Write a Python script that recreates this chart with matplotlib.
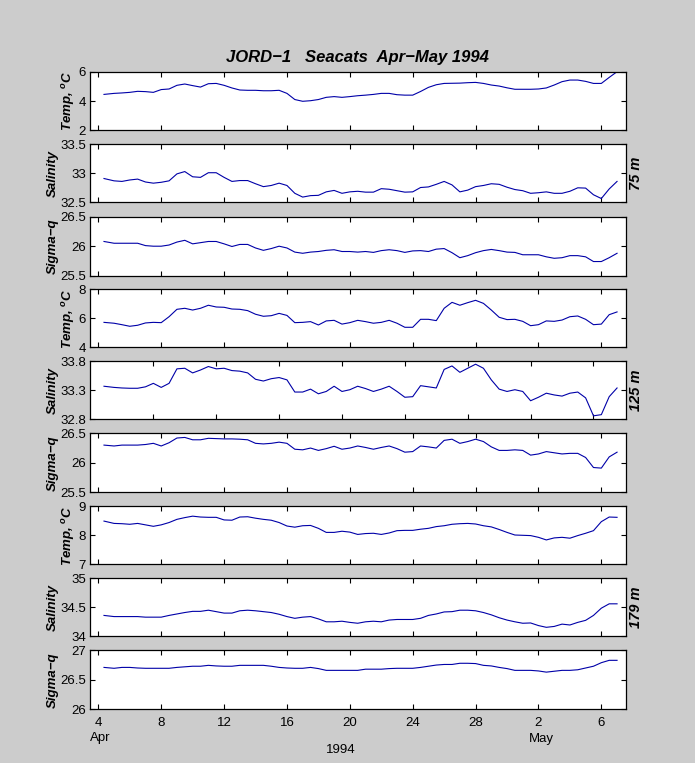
import numpy as np
import matplotlib
matplotlib.use('Agg')
import matplotlib.pyplot as plt

plt.rcParams['font.family'] = ['Liberation Sans', 'DejaVu Sans']
plt.rcParams['mathtext.fontset'] = 'custom'
plt.rcParams['mathtext.bf'] = 'Liberation Sans:bold:italic'

# dias desde 0 abril (2 maio = 32)
days = np.r_[4.36, np.arange(5, 37.5, 0.5)]

# 75 m
temp_75 = [4.45, 4.52, 4.55, 4.59, 4.66, 4.64, 4.59, 4.78, 4.82, 5.07, 5.16, 5.05, 4.95, 5.18, 5.2, 5.07,
           4.89, 4.75, 4.73, 4.73, 4.7, 4.7, 4.73, 4.52, 4.1, 3.98, 4.02, 4.1, 4.25, 4.3, 4.25, 4.3,
           4.36, 4.4, 4.45, 4.52, 4.52, 4.43, 4.4, 4.4, 4.65, 4.93, 5.11, 5.2, 5.21, 5.22, 5.25, 5.27,
           5.2, 5.09, 5.02, 4.9, 4.8, 4.8, 4.8, 4.82, 4.89, 5.09, 5.32, 5.43, 5.43, 5.34, 5.2, 5.2, 5.61, 6.0]
sal_75 = [32.91, 32.87, 32.86, 32.885, 32.9, 32.85, 32.83, 32.845, 32.87, 32.99, 33.03, 32.94, 32.93, 33.01, 33.01, 32.93,
          32.86, 32.875, 32.875, 32.82, 32.77, 32.79, 32.83, 32.79, 32.655, 32.59, 32.615, 32.62, 32.68, 32.705, 32.655, 32.68,
          32.69, 32.675, 32.675, 32.735, 32.725, 32.7, 32.675, 32.68, 32.755, 32.765, 32.81, 32.86, 32.8, 32.68, 32.71, 32.77,
          32.79, 32.82, 32.81, 32.76, 32.72, 32.7, 32.655, 32.665, 32.68, 32.655, 32.655, 32.69, 32.75, 32.745, 32.63, 32.565, 32.73, 32.86]
sig_75 = [26.08, 26.05, 26.05, 26.05, 26.05, 26.01, 26.0, 26.0, 26.02, 26.07, 26.1, 26.04, 26.06, 26.08, 26.08, 26.04,
          25.995, 26.03, 26.03, 25.97, 25.93, 25.96, 26.0, 25.97, 25.9, 25.88, 25.9, 25.91, 25.93, 25.94, 25.91, 25.91,
          25.9, 25.91, 25.895, 25.925, 25.94, 25.925, 25.895, 25.92, 25.925, 25.91, 25.95, 25.96, 25.89, 25.805, 25.84, 25.89,
          25.925, 25.945, 25.925, 25.9, 25.895, 25.855, 25.855, 25.855, 25.82, 25.795, 25.805, 25.84, 25.84, 25.82, 25.74, 25.74, 25.805, 25.88]

# 125 m
temp_125 = [5.72, 5.66, 5.56, 5.45, 5.52, 5.68, 5.72, 5.7, 6.11, 6.62, 6.69, 6.57, 6.69, 6.9, 6.78, 6.76,
            6.64, 6.62, 6.53, 6.28, 6.14, 6.18, 6.34, 6.2, 5.7, 5.72, 5.77, 5.54, 5.82, 5.86, 5.6, 5.7,
            5.86, 5.77, 5.66, 5.72, 5.86, 5.66, 5.38, 5.38, 5.93, 5.93, 5.84, 6.69, 7.1, 6.9, 7.08, 7.24,
            7.03, 6.57, 6.07, 5.91, 5.93, 5.79, 5.49, 5.56, 5.82, 5.79, 5.88, 6.11, 6.16, 5.93, 5.56, 5.6, 6.25, 6.44]
sal_125 = [33.37, 33.35, 33.34, 33.335, 33.335, 33.36, 33.42, 33.35, 33.42, 33.67, 33.68, 33.6, 33.65, 33.71, 33.67, 33.68,
           33.64, 33.63, 33.6, 33.49, 33.46, 33.5, 33.52, 33.48, 33.27, 33.27, 33.32, 33.24, 33.28, 33.37, 33.28, 33.31,
           33.37, 33.33, 33.28, 33.32, 33.37, 33.28, 33.18, 33.19, 33.38, 33.36, 33.34, 33.66, 33.72, 33.61, 33.68, 33.75,
           33.68, 33.48, 33.32, 33.28, 33.31, 33.28, 33.12, 33.18, 33.25, 33.22, 33.2, 33.25, 33.27, 33.17, 32.86, 32.88, 33.19, 33.34]
sig_125 = [26.3, 26.285, 26.3, 26.3, 26.3, 26.31, 26.33, 26.285, 26.34, 26.42, 26.43, 26.39, 26.39, 26.415, 26.41, 26.405,
           26.405, 26.4, 26.39, 26.33, 26.32, 26.33, 26.35, 26.33, 26.23, 26.22, 26.25, 26.21, 26.24, 26.28, 26.23, 26.25,
           26.285, 26.26, 26.23, 26.26, 26.285, 26.24, 26.18, 26.19, 26.285, 26.27, 26.25, 26.38, 26.4, 26.33, 26.36, 26.4,
           26.36, 26.27, 26.21, 26.21, 26.22, 26.21, 26.13, 26.15, 26.19, 26.17, 26.15, 26.16, 26.16, 26.09, 25.92, 25.91, 26.1, 26.18]

# 179 m
temp_179 = [8.49, 8.41, 8.4, 8.38, 8.41, 8.36, 8.31, 8.36, 8.44, 8.55, 8.61, 8.66, 8.63, 8.62, 8.62, 8.53,
            8.52, 8.63, 8.64, 8.59, 8.55, 8.52, 8.44, 8.32, 8.28, 8.33, 8.34, 8.24, 8.1, 8.1, 8.14, 8.11,
            8.03, 8.06, 8.07, 8.03, 8.08, 8.16, 8.17, 8.17, 8.21, 8.24, 8.3, 8.33, 8.38, 8.4, 8.41, 8.39,
            8.33, 8.29, 8.2, 8.1, 8.01, 8.0, 7.99, 7.93, 7.84, 7.91, 7.93, 7.9, 7.99, 8.07, 8.16, 8.47, 8.63, 8.62]
sal_179 = [34.36, 34.34, 34.34, 34.34, 34.34, 34.33, 34.33, 34.33, 34.36, 34.385, 34.41, 34.43, 34.43, 34.45, 34.425, 34.4,
           34.4, 34.44, 34.45, 34.44, 34.425, 34.41, 34.38, 34.34, 34.31, 34.33, 34.34, 34.3, 34.25, 34.25, 34.26, 34.24,
           34.225, 34.25, 34.26, 34.25, 34.28, 34.29, 34.29, 34.29, 34.31, 34.36, 34.385, 34.42, 34.425, 34.45, 34.45, 34.44,
           34.41, 34.37, 34.32, 34.28, 34.25, 34.225, 34.23, 34.185, 34.155, 34.17, 34.21, 34.195, 34.24, 34.275, 34.36, 34.485, 34.56, 34.56]
sig_179 = [26.71, 26.695, 26.71, 26.71, 26.7, 26.695, 26.695, 26.695, 26.695, 26.71, 26.72, 26.73, 26.73, 26.745, 26.735, 26.73,
           26.73, 26.745, 26.745, 26.745, 26.745, 26.73, 26.71, 26.7, 26.695, 26.695, 26.71, 26.69, 26.66, 26.66, 26.66, 26.66,
           26.66, 26.68, 26.68, 26.68, 26.69, 26.695, 26.695, 26.695, 26.71, 26.73, 26.75, 26.76, 26.76, 26.78, 26.78, 26.775,
           26.745, 26.735, 26.71, 26.69, 26.66, 26.66, 26.66, 26.65, 26.63, 26.645, 26.66, 26.66, 26.67, 26.7, 26.73, 26.79, 26.83, 26.83]

series = [temp_75, sal_75, sig_75, temp_125, sal_125, sig_125, temp_179, sal_179, sig_179]
y_limits = [(2, 6), (32.5, 33.5), (25.5, 26.5), (4, 8), (32.8, 33.8), (25.5, 26.5), (7, 9), (34, 35), (26, 27)]
y_ticks = [[2, 4, 6], [32.5, 33, 33.5], [25.5, 26, 26.5], [4, 6, 8], [32.8, 33.3, 33.8], [25.5, 26, 26.5],
           [7, 8, 9], [34, 34.5, 35], [26, 26.5, 27]]
y_ticklabels = [['2', '4', '6'], ['32.5', '33', '33.5'], ['25.5', '26', '26.5'], ['4', '6', '8'],
                ['32.8', '33.3', '33.8'], ['25.5', '26', '26.5'], ['7', '8', '9'], ['34', '34.5', '35'],
                ['26', '26.5', '27']]
y_labels = ['Temp, $^{\\mathbf{o}}$C', 'Salinity', 'Sigma\u2212q'] * 3
depths = ['75 m', '125 m', '179 m']

x_ticks = [4, 8, 12, 16, 20, 24, 28, 32, 36]
x_ticklabels = ['4', '8', '12', '16', '20', '24', '28', '2', '6']
# o painel de salinidade em 125 m tem os ticks deslocados meio dia
x_ticks_shifted = [7.5, 11.5, 15.5, 19.5, 23.5, 27.5, 31.5, 35.5]

W, H = 695, 763
panel_tops = [71.7, 144.3, 216.7, 289.3, 361.3, 433.3, 506.3, 578.3, 650.3]
panel_bottoms = [130.3, 202.3, 275.7, 347.3, 419.3, 492.3, 564.3, 636.3, 709.3]
left, right = 90, 625.7
line_color = '#0000a8'

fig = plt.figure(figsize=(W / 100, H / 100), dpi=100, facecolor='#cccccc')

for i in range(9):
    ax = fig.add_axes([left / W, 1 - panel_bottoms[i] / H, (right - left) / W,
                       (panel_bottoms[i] - panel_tops[i]) / H])
    ax.plot(days, series[i], color=line_color, linewidth=0.8)
    ax.set_xlim(3.47, 37.55)
    ax.set_ylim(y_limits[i])
    ax.set_yticks(y_ticks[i])
    ax.set_yticklabels(y_ticklabels[i], fontsize=9.5)
    ax.set_xticks(x_ticks_shifted if i == 4 else x_ticks)
    if i == 8:
        ax.set_xticklabels(x_ticklabels, fontsize=9.5)
    else:
        ax.set_xticklabels([])
    ax.tick_params(direction='in', top=True, right=True, length=3.5, width=0.8, pad=3, colors='black')
    ax.tick_params(axis='x', pad=5.5)
    for spine in ax.spines.values():
        spine.set_linewidth(0.9)
    ax.set_ylabel(y_labels[i], fontsize=9.5, fontweight='bold', fontstyle='italic')
    ax.yaxis.set_label_coords(-0.0245 if i % 3 == 0 else -0.0585, 0.5)
    if i % 3 == 1:
        ax.text(1.0195, 0.5, depths[i // 3], transform=ax.transAxes, rotation=90, fontsize=10.5,
                fontweight='bold', fontstyle='italic', ha='center', va='center')

fig.text(357 / W, 1 - 57.5 / H, 'JORD\u22121   Seacats  Apr\u2212May 1994', fontsize=12, fontweight='bold',
         fontstyle='italic', ha='center', va='center')
fig.text(90 / W, 1 - 737.5 / H, 'Apr', fontsize=9.5, ha='left', va='center')
fig.text(541 / W, 1 - 739 / H, 'May', fontsize=9.5, ha='center', va='center')
fig.text(340.5 / W, 1 - 750 / H, '1994', fontsize=9.5, ha='center', va='center')

fig.savefig('out.png', dpi=100, facecolor=fig.get_facecolor())
